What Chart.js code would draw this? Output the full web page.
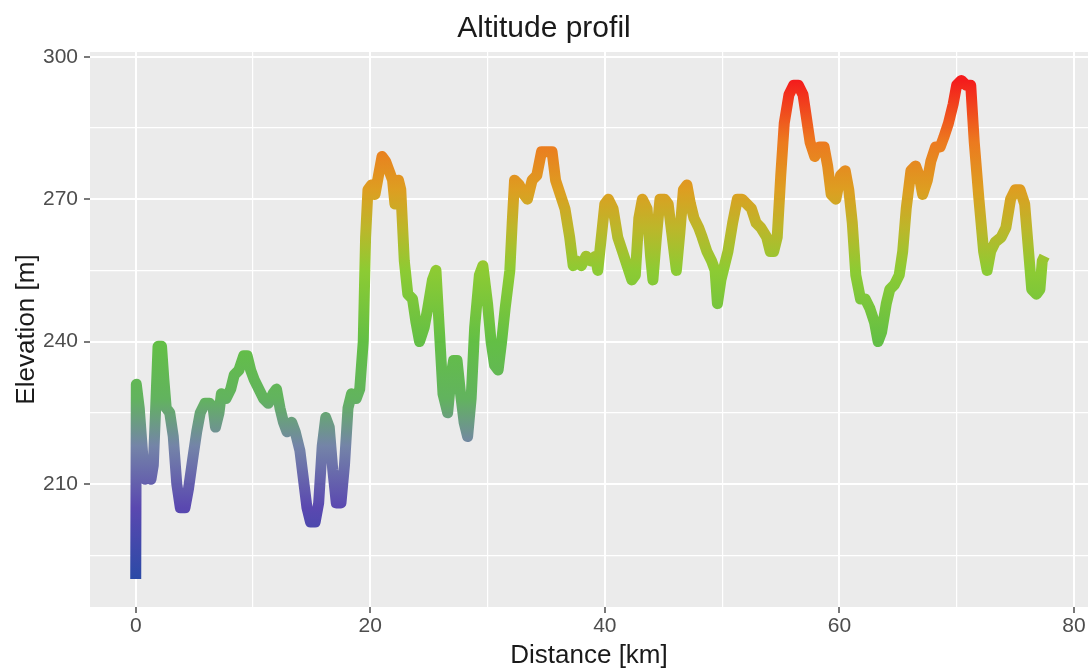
<!DOCTYPE html>
<html><head><meta charset="utf-8">
<script src="https://cdn.jsdelivr.net/npm/chart.js@4.4.1/dist/chart.umd.min.js"></script>
<style>html,body{margin:0;padding:0;background:#fff;}#wrap{width:1091px;height:671px;}</style>
</head><body><div id="wrap"><canvas id="c" width="1091" height="671"></canvas></div>
<script>
const distanceKm = [0.00,0.05,0.3,0.6,0.8,1.0,1.3,1.5,1.7,1.9,2.2,2.4,2.6,2.9,3.2,3.5,3.8,4.2,4.5,4.9,5.2,5.5,5.9,6.3,6.6,6.8,7.1,7.3,7.7,8.1,8.4,8.8,9.2,9.5,9.8,10.1,10.5,10.9,11.3,11.7,12.0,12.3,12.6,12.9,13.3,13.6,14.0,14.3,14.6,14.9,15.3,15.6,15.9,16.2,16.5,16.8,17.1,17.5,17.8,18.1,18.4,18.8,19.1,19.4,19.6,19.8,20.1,20.4,20.7,21.0,21.3,21.6,21.9,22.1,22.4,22.6,22.9,23.2,23.6,23.9,24.2,24.6,24.9,25.3,25.6,25.9,26.2,26.6,26.9,27.1,27.4,27.7,28.0,28.3,28.6,28.9,29.3,29.6,30.0,30.3,30.6,30.9,31.2,31.5,31.9,32.1,32.3,32.7,33.1,33.4,33.8,34.2,34.6,35.0,35.5,35.8,36.2,36.6,37.0,37.3,37.6,38.0,38.4,38.8,39.2,39.4,39.7,40.0,40.3,40.7,41.1,41.5,41.9,42.3,42.6,42.9,43.2,43.6,43.9,44.1,44.4,44.7,45.1,45.4,45.8,46.1,46.4,46.7,47.0,47.3,47.6,48.0,48.3,48.7,49.1,49.4,49.6,49.9,50.2,50.5,50.9,51.3,51.7,52.1,52.5,52.9,53.3,53.8,54.1,54.4,54.7,55.0,55.3,55.7,56.1,56.5,56.9,57.2,57.5,57.9,58.3,58.7,59.0,59.3,59.7,60.1,60.5,60.8,61.1,61.4,61.8,62.2,62.6,63.0,63.3,63.6,64.0,64.3,64.7,65.1,65.4,65.7,66.1,66.5,66.8,67.1,67.5,67.8,68.2,68.6,68.9,69.3,69.7,70.0,70.4,70.8,71.2,71.5,71.9,72.3,72.6,72.9,73.3,73.8,74.2,74.6,75.0,75.4,75.8,76.1,76.4,76.8,77.1,77.3,77.5];
const elevationM = [190,231,226,216,211,213,211,214,226,239,239,232,226,225,220,210,205,205,209,216,221,225,227,227,226,222,225,229,228,230,233,234,237,237,234,232,230,228,227,229,230,226,223,221,223,221,217,211,205,202,202,206,218,224,222,213,206,206,214,226,229,228,230,240,262,272,273,271,275,279,278,276,274,269,274,272,257,250,249,244,240,243,247,253,255,242,229,225,233,236,236,229,223,220,228,243,254,256,248,240,235,234,240,247,255,265,274,273,271,270,274,275,280,280,280,274,271,268,262,256,257,256,258,257,258,255,262,269,270,268,262,259,256,253,254,266,270,268,258,253,262,270,270,269,261,255,263,272,273,269,266,264,262,259,257,255,248,253,256,259,265,270,270,269,268,265,264,262,259,259,262,275,286,292,294,294,292,287,282,279,281,281,277,271,270,275,276,272,265,254,249,249,247,244,240,242,248,251,252,254,259,268,276,277,275,271,274,278,281,281,283,286,290,294,295,294,294,282,270,259,255,259,261,262,264,270,272,272,269,260,251,250,251,257,258];
const xMajorTicks = [0,20,40,60,80];
const xMinorTicks = [10,30,50,70];
const yMajorTicks = [210,240,270,300];
const yMinorTicks = [195,225,255,285];
const colorStops = [[190,'#2B4AA6'],[205,'#5A48B0'],[218,'#7484A8'],[228,'#62B35E'],[240,'#63BF45'],[255,'#8DCB33'],[264,'#BDB62A'],[272,'#DD9E21'],[282,'#EC7A1F'],[295,'#F41C1C']];

const points = distanceKm.map((d,i)=>({x:d,y:elevationM[i]}));

const panelBg = {id:'panelBg', beforeDraw(chart){
  const {ctx, chartArea:a} = chart; if(!a) return;
  ctx.save(); ctx.fillStyle='#EBEBEB'; ctx.fillRect(a.left,a.top,a.right-a.left,a.bottom-a.top); ctx.restore();
}};

function elevGradient(context){
  const chart = context.chart; const a = chart.chartArea; const y = chart.scales.y;
  if(!a || !y) return '#63BF45';
  const lo = colorStops[0][0], hi = colorStops[colorStops.length-1][0];
  const g = chart.ctx.createLinearGradient(0, y.getPixelForValue(lo), 0, y.getPixelForValue(hi));
  colorStops.forEach(([v,c])=>g.addColorStop((v-lo)/(hi-lo), c));
  return g;
}
const FONT = "'Liberation Sans', Arial, sans-serif";
const isMajor = (arr, v) => arr.includes(v);

new Chart(document.getElementById('c'), {
  type:'line',
  data:{datasets:[{data:points, borderColor:elevGradient, borderWidth:11, borderJoinStyle:'round', borderCapStyle:'butt', pointRadius:0, tension:0, fill:false}]},
  options:{
    responsive:false, devicePixelRatio:1, animation:false,
    layout:{padding:{left:0,right:3,top:0,bottom:0}},
    plugins:{
      legend:{display:false}, tooltip:{enabled:false},
      title:{display:true, text:'Altitude profil', color:'#1a1a1a', font:{family:FONT,size:30,weight:'normal',lineHeight:1.2}, padding:{top:11,bottom:5}}
    },
    scales:{
      x:{type:'linear', min:-3.9, max:81.2,
        afterBuildTicks:(s)=>{s.ticks=[...xMajorTicks,...xMinorTicks].sort((a,b)=>a-b).map(v=>({value:v}));},
        afterFit:(s)=>{s.height=64;},
        ticks:{autoSkip:false,maxRotation:0,padding:1,color:'#4D4D4D',font:{family:FONT,size:21},callback:(v)=>isMajor(xMajorTicks,v)?String(v):''},
        grid:{color:'#FFFFFF', lineWidth:(c)=>isMajor(xMajorTicks,c.tick&&c.tick.value)?2:1.2, tickLength:6, tickWidth:1.5, tickColor:(c)=>isMajor(xMajorTicks,c.tick&&c.tick.value)?'#4D4D4D':'rgba(0,0,0,0)'},
        border:{display:false},
        title:{display:true,text:'Distance [km]',color:'#1a1a1a',font:{family:FONT,size:26,lineHeight:1.2},padding:{top:0,bottom:0}}
      },
      y:{type:'linear', min:184.1, max:301,
        afterBuildTicks:(s)=>{s.ticks=[...yMajorTicks,...yMinorTicks].sort((a,b)=>a-b).map(v=>({value:v}));},
        afterFit:(s)=>{s.width=90;},
        ticks:{autoSkip:false,padding:6,color:'#4D4D4D',font:{family:FONT,size:21},callback:(v)=>isMajor(yMajorTicks,v)?String(v):''},
        grid:{color:'#FFFFFF', lineWidth:(c)=>isMajor(yMajorTicks,c.tick&&c.tick.value)?2:1.2, tickLength:6, tickWidth:1.5, tickColor:(c)=>isMajor(yMajorTicks,c.tick&&c.tick.value)?'#4D4D4D':'rgba(0,0,0,0)'},
        border:{display:false},
        title:{display:true,text:'Elevation [m]',color:'#1a1a1a',font:{family:FONT,size:26,lineHeight:1.2},padding:{top:11,bottom:0}}
      }
    }
  },
  plugins:[panelBg]
});
</script></body></html>
